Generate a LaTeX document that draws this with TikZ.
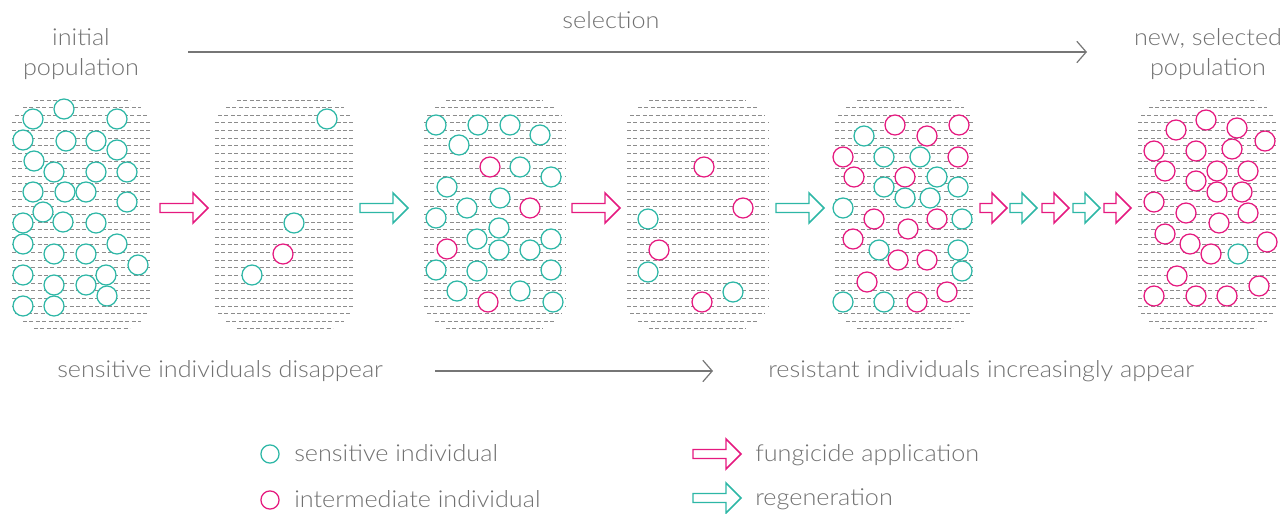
\documentclass[tikz,border=0pt]{standalone}
\usepackage{fontspec}
\setmainfont{Lato}[UprightFont=* Light, FakeStretch=1.08]
\usetikzlibrary{arrows.meta}
\definecolor{tealc}{HTML}{2DB7A6}
\definecolor{magc}{HTML}{E5197F}
\definecolor{txtc}{HTML}{707070}
\definecolor{hatchc}{HTML}{8C8C8C}
\definecolor{linec}{HTML}{767676}
\tikzset{
  hatchline/.style={draw=hatchc, line width=0.75pt, dash pattern=on 3pt off 1.8pt},
  sens/.style={draw=tealc, fill=white, line width=0.95pt},
  inter/.style={draw=magc, fill=white, line width=0.95pt},
  lbl/.style={text=txtc, inner sep=0pt, anchor=mid, font=\fontsize{17.5pt}{21pt}\selectfont},
  guide/.style={draw=linec, line width=1.1pt, -{Straight Barb[length=7pt,width=16pt,line width=0.9pt]}},
  fat/.style={line width=1.1pt, line join=miter, fill=white}
}
\newcommand{\hatchbox}[2]{%
  \foreach \k/\ins in {0/22,1/11,2/3,28/3,29/11,30/22}{
    \draw[hatchline] (#1+\ins,100+7.63*\k) -- (#2-\ins,100+7.63*\k);}
  \foreach \k in {3,...,27}{
    \draw[hatchline] (#1,100+7.63*\k) -- (#2,100+7.63*\k);}
}
% colour, x start, y centre, shaft length
\newcommand{\fatarrow}[4]{%
  \draw[fat, draw=#1] (#2,#3-4.5) -- ++(#4,0) -- ++(0,-10.5) -- (#2+#4+15,#3)
     -- (#2+#4,#3+15) -- ++(0,-10.5) -- (#2,#3+4.5) -- cycle;}
\newcommand{\sensat}[1]{\foreach \p in {#1}{\draw[sens] \p circle[radius=7.5pt];}}
\newcommand{\interat}[1]{\foreach \p in {#1}{\draw[inter] \p circle[radius=7.5pt];}}
\begin{document}
\begin{tikzpicture}[x=0.75pt,y=-0.75pt]
\useasboundingbox (0,0) rectangle (1286,514);
% hatched population boxes
\hatchbox{12}{152}
\hatchbox{215}{355}
\hatchbox{424}{565}
\hatchbox{627}{768}
\hatchbox{835}{975}
\hatchbox{1138}{1278}
% box 1
\sensat{(33,119),(64,109),(117,119),(23,140),(66,141),(96,141),(117,150),(34,161),(54,172),(96,172),(127,172),(33,192),(65,192),(86,192),(127,202),(43,212),(63,222),(96,223),(23,223),(23,244),(117,244),(54,254),(86,254),(138,265),(23,275),(54,285),(86,285),(106,275),(107,296),(23,306),(54,306)}
% box 2
\sensat{(327,119),(294,223),(252,275)}
\interat{(283,254)}
% box 3
\sensat{(436,125),(478,125),(510,125),(540,135),(459,145),(520,167),(551,177),(447,187),(500,198),(467,208),(436,218),(499,228),(477,239),(551,239),(499,250),(530,250),(436,270),(477,271),(551,270),(457,291),(520,291),(553,302)}
\interat{(490,167),(530,208),(447,249),(488,302)}
% box 4
\interat{(704,167),(743,208),(659,250),(702,302)}
\sensat{(648,219),(648,272),(733,292)}
% box 5
\interat{(895,125),(959,125),(927,136),(843,157),(958,157),(854,177),(905,177),(874,219),(937,219),(908,229),(853,239),(898,260),(927,260),(867,282),(947,292),(917,302)}
\sensat{(864,136),(884,157),(920,157),(937,177),(884,187),(958,187),(905,198),(930,198),(843,208),(962,219),(879,250),(958,250),(962,271),(843,302),(884,302)}
% box 6
\interat{(1206,120),(1176,130),(1237,128),(1265,141),(1154,151),(1196,151),(1232,149),(1165,171),(1217,171),(1248,171),(1196,181),(1217,192),(1242,192),(1154,202),(1186,213),(1248,213),(1219,223),(1165,234),(1190,244),(1267,242),(1211,254),(1177,276),(1259,286),(1154,296),(1196,296),(1227,296)}
\sensat{(1238,254)}
% process arrows
\fatarrow{magc}{160}{208}{33}
\fatarrow{tealc}{360}{208}{33}
\fatarrow{magc}{572}{208}{33}
\fatarrow{tealc}{776}{208}{33}
\fatarrow{magc}{980}{208}{12}
\fatarrow{tealc}{1010}{208}{12}
\fatarrow{magc}{1042}{208}{12}
\fatarrow{tealc}{1073}{208}{12}
\fatarrow{magc}{1104}{208}{12}
% top labels
\node[lbl] (init1) at (81,42) {initial};
\node[lbl] (init2) at (81,72) {population};
\node[lbl] (sel) at (611,25) {selection};
\node[lbl] (new1) at (1208,42) {new, selected};
\node[lbl] (new2) at (1208,72) {population};
\coordinate (selA) at (188,52);
\coordinate (selB) at (1087,52);
\draw[guide] (selA) -- (selB);
% bottom labels
\node[lbl, anchor=mid west] (dis) at (57,374) {sensitive individuals disappear};
\node[lbl, anchor=mid west] (app) at (768,374) {resistant individuals increasingly appear};
\coordinate (botA) at (435,371);
\coordinate (botB) at (713,371);
\draw[guide] (botA) -- (botB);
% legend
\draw[sens] (270,454) circle[radius=6.8pt];
\draw[inter] (270,500) circle[radius=6.8pt];
\node[lbl, anchor=mid west] (lsens) at (294,458) {sensitive individual};
\node[lbl, anchor=mid west] (linter) at (294,504) {intermediate individual};
\fatarrow{magc}{693}{454}{33}
\fatarrow{tealc}{693}{498}{33}
\node[lbl, anchor=mid west] (lfung) at (755,458) {fungicide application};
\node[lbl, anchor=mid west] (lregen) at (755,502) {regeneration};
\end{tikzpicture}
\end{document}
